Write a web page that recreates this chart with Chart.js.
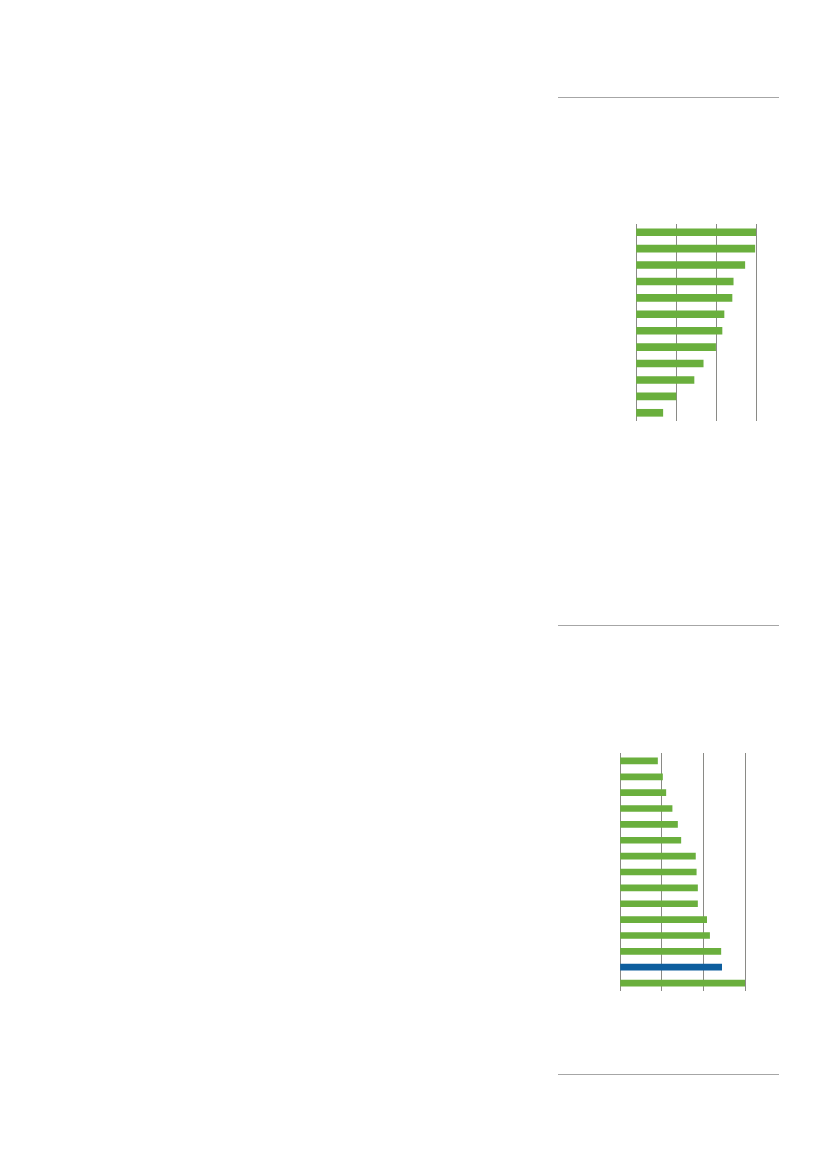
<!DOCTYPE html>
<html>
<head>
<meta charset="utf-8">
<script src="https://cdn.jsdelivr.net/npm/chart.js@4/dist/chart.umd.min.js"></script>
<style>
  html, body { margin: 0; padding: 0; background: #fff; }
  body { width: 827px; height: 1169px; position: relative; overflow: hidden; font-family: "Open Sans", sans-serif; }
  .rule { position: absolute; left: 558px; width: 221px; height: 1px; background: #a6a6a6; }
  .box { position: absolute; }
</style>
</head>
<body>
<div class="rule" style="top:97px"></div>
<div class="rule" style="top:625px"></div>
<div class="rule" style="top:1074px"></div>

<div class="box" style="left:626px; top:214px; width:140px; height:217px;"><canvas id="chart-top"></canvas></div>
<div class="box" style="left:610px; top:743px; width:145px; height:258px;"><canvas id="chart-bottom"></canvas></div>

<script>
// --- DATA (no text is printed in the picture, labels are placeholders) ---
const topCategories = ['1', '2', '3', '4', '5', '6', '7', '8', '9', '10', '11', '12'];
const topValues = [3.0, 2.97, 2.72, 2.43, 2.40, 2.20, 2.15, 1.99, 1.68, 1.45, 1.0, 0.67];

const bottomCategories = ['1', '2', '3', '4', '5', '6', '7', '8', '9', '10', '11', '12', '13', '14', '15'];
const bottomValues = [0.90, 1.02, 1.10, 1.25, 1.38, 1.46, 1.81, 1.83, 1.86, 1.86, 2.08, 2.15, 2.42, 2.44, 3.0];
const bottomHighlight = 13; // index of the blue bar

const xTicks = [0, 1, 2, 3];

const GREEN = '#6aaf3d';
const BLUE = '#0e5e9e';
const GRID = '#8a8a86';

function drawBars(canvasId, labels, values, colors, thickness) {
    const ctx = document.getElementById(canvasId).getContext('2d');
    return new Chart(ctx, {
        type: 'bar',
        data: {
            labels: labels,
            datasets: [{
                data: values,
                backgroundColor: colors,
                borderWidth: 0,
                barThickness: thickness
            }]
        },
        options: {
            indexAxis: 'y',
            responsive: true,
            maintainAspectRatio: false,
            animation: false,
            layout: { padding: 10 },
            plugins: {
                legend: { display: false },
                tooltip: { enabled: false }
            },
            scales: {
                x: {
                    min: xTicks[0],
                    max: xTicks[xTicks.length - 1],
                    afterBuildTicks: (axis) => { axis.ticks = xTicks.map(v => ({ value: v })); },
                    ticks: { display: false },
                    border: { display: false },
                    grid: { color: GRID, lineWidth: 1, drawTicks: false }
                },
                y: {
                    display: false
                }
            }
        }
    });
}

drawBars('chart-top', topCategories, topValues, topValues.map(() => GREEN), 7);
drawBars('chart-bottom', bottomCategories, bottomValues,
    bottomValues.map((_, i) => i === bottomHighlight ? BLUE : GREEN), 6);
</script>
</body>
</html>
